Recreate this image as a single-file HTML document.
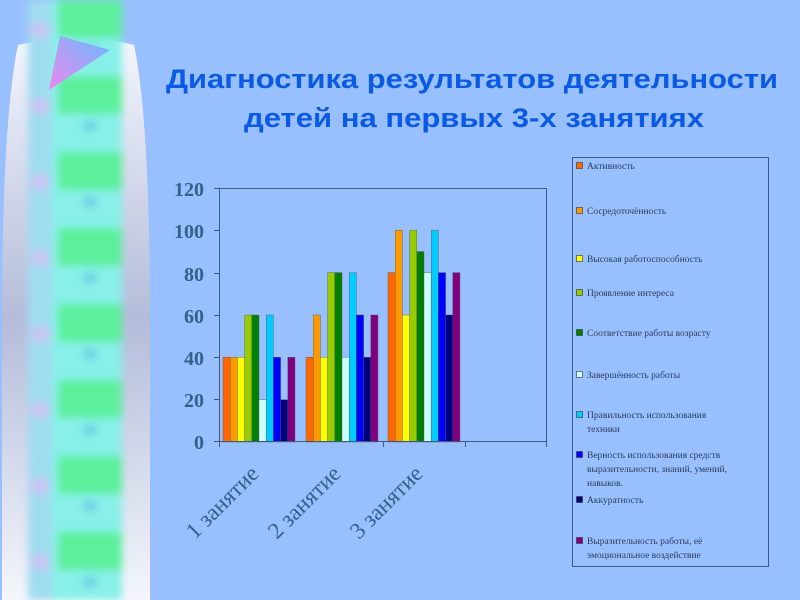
<!DOCTYPE html>
<html><head><meta charset="utf-8"><style>
html,body{margin:0;padding:0;}
body{width:800px;height:600px;background:#99c0fe;overflow:hidden;position:relative;font-family:"Liberation Sans","DejaVu Sans",sans-serif;}
</style></head><body>
<svg id="s" width="800" height="600" xmlns="http://www.w3.org/2000/svg" style="position:absolute;left:0;top:0">
<defs>
<linearGradient id="gr" x1="0" y1="0" x2="0" y2="1">
<stop offset="0" stop-color="#f4f6fc"/><stop offset="0.5" stop-color="#b4bcda"/><stop offset="1" stop-color="#f4f6fc"/>
</linearGradient>
<linearGradient id="tri" x1="1" y1="0" x2="0" y2="1">
<stop offset="0" stop-color="#66bbff"/><stop offset="1" stop-color="#ee88ee"/>
</linearGradient>
<pattern id="pt" x="28" y="0" width="94" height="76" patternUnits="userSpaceOnUse">
<rect width="94" height="76" fill="#88f0e8"/>
<rect x="30" y="0" width="64" height="38" fill="#5cf09c"/>
<rect x="0" y="0" width="24" height="76" fill="#a0dcf0"/>
<ellipse cx="12" cy="30" rx="10" ry="8" fill="#c8c4f4"/>
<ellipse cx="62" cy="50" rx="7" ry="6" fill="#6cd0e4"/>
</pattern>
<filter id="bl"><feGaussianBlur stdDeviation="4"/></filter>
</defs>
<path d="M18,45 Q2,120 2,330 L2,600 L150,600 L150,330 Q150,120 134,45 Q76,30 18,45Z" fill="url(#gr)"/>
<rect x="28" y="0" width="94" height="600" fill="url(#pt)" filter="url(#bl)"/>
<polygon points="60,36 110,50 49,90" fill="url(#tri)"/>
<text x="472" y="88" text-anchor="middle" font-size="27" font-weight="bold" fill="#0a5ae6" textLength="612" lengthAdjust="spacingAndGlyphs" font-family="Liberation Sans, sans-serif">Диагностика результатов деятельности</text>
<text x="474" y="127" text-anchor="middle" font-size="27" font-weight="bold" fill="#0a5ae6" textLength="460" lengthAdjust="spacingAndGlyphs" font-family="Liberation Sans, sans-serif">детей на первых 3-х занятиях</text>
<g id="bars"></g>
<g stroke="#3a5a80" stroke-width="1" fill="none">
<rect x="219.5" y="188.5" width="327" height="253"/>
<line x1="214" y1="188.5" x2="219" y2="188.5"/><line x1="214" y1="230.5" x2="219" y2="230.5"/>
<line x1="214" y1="273.5" x2="219" y2="273.5"/><line x1="214" y1="315.5" x2="219" y2="315.5"/>
<line x1="214" y1="357.5" x2="219" y2="357.5"/><line x1="214" y1="399.5" x2="219" y2="399.5"/>
<line x1="214" y1="441.5" x2="219" y2="441.5"/>
<line x1="219.5" y1="441" x2="219.5" y2="447"/><line x1="383.5" y1="441" x2="383.5" y2="447"/>
<line x1="465.5" y1="441" x2="465.5" y2="447"/><line x1="546.5" y1="441" x2="546.5" y2="447"/>
</g>
<g font-family="Liberation Serif, serif" font-size="20" font-weight="bold" fill="#35608a" text-anchor="end">
<text x="204" y="196">120</text><text x="204" y="238">100</text><text x="204" y="281">80</text>
<text x="204" y="323">60</text><text x="204" y="365">40</text><text x="204" y="407">20</text><text x="204" y="449">0</text>
</g>
<g font-family="Liberation Serif, serif" font-size="23" fill="#35608a" text-anchor="end">
<text transform="translate(260,475) rotate(-45)">1 занятие</text>
<text transform="translate(342,475) rotate(-45)">2 занятие</text>
<text transform="translate(424,475) rotate(-45)">3 занятие</text>
</g>
<rect x="572.5" y="157.5" width="196" height="409" fill="#99c0fe" stroke="#3a5a80"/>
<g id="leg" font-family="Liberation Serif, serif" font-size="9.5" fill="#2a3a60"></g>
</svg>
<script>
var cols=["#ff6600","#ff9900","#ffff00","#99cc00","#008000","#ccffff","#00ccff","#0000ff","#000080","#800080"];
var vals=[[40,40,40,60,60,20,60,40,20,40],[40,60,40,80,80,40,80,60,40,60],[80,100,60,100,90,80,100,80,60,80]];
var starts=[223,306,388],w=7.2,h="";
for(var g=0;g<3;g++)for(var i=0;i<10;i++){var v=vals[g][i],y=442-v*2.117;
h+='<rect x="'+(starts[g]+i*w).toFixed(1)+'" y="'+y.toFixed(1)+'" width="'+w+'" height="'+(442-y).toFixed(1)+'" fill="'+cols[i]+'" stroke="#555" stroke-width="0.4"/>';}
document.getElementById("bars").innerHTML=h;
var items=[[166,["Активность"]],[211,["Сосредоточённость"]],[259,["Высокая работоспособность"]],[293,["Проявление интереса"]],[333,["Соответствие работы возрасту"]],[375,["Завершённость работы"]],[415,["Правильность использования","техники"]],[455,["Верность использования средств","выразительности, знаний, умений,","навыков."]],[500,["Аккуратность"]],[541,["Выразительность работы, её","эмоциональное воздействие"]]];
var l="";
items.forEach(function(it,k){l+='<rect x="576.5" y="'+(it[0]-3.5)+'" width="6" height="6" fill="'+cols[k]+'" stroke="#333" stroke-width="0.6"/>';
it[1].forEach(function(t,j){l+='<text x="587" y="'+(it[0]+3+j*14)+'">'+t+'</text>';});});
document.getElementById("leg").innerHTML=l;
</script>
</body></html>
